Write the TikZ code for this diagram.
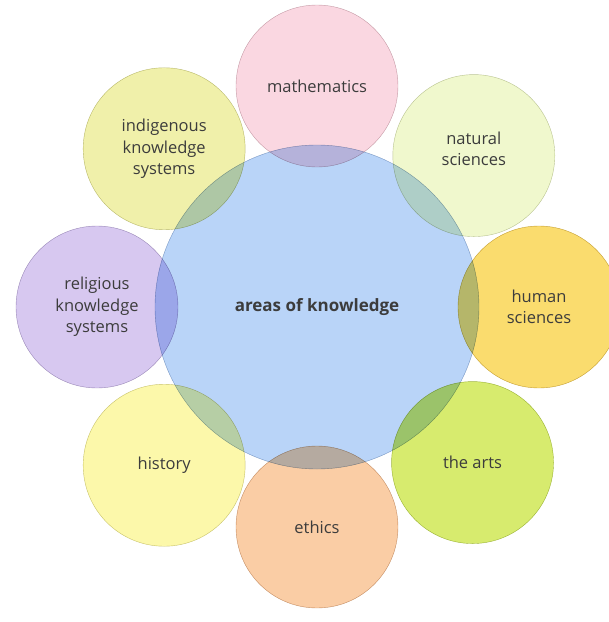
\documentclass[tikz,border=0pt]{standalone}
\usepackage{fontspec}
\setmainfont{Open Sans}
\usetikzlibrary{positioning}

\definecolor{aokblue}{RGB}{185,212,248}
\definecolor{mathpink}{RGB}{250,215,225}
\definecolor{natgreen}{RGB}{240,248,205}
\definecolor{humgold}{RGB}{250,220,110}
\definecolor{artlime}{RGB}{215,235,110}
\definecolor{ethpeach}{RGB}{250,205,165}
\definecolor{histyellow}{RGB}{252,248,170}
\definecolor{rellilac}{RGB}{215,200,240}
\definecolor{indolive}{RGB}{240,240,170}
\definecolor{txtgray}{RGB}{60,60,60}

\begin{document}
\begin{tikzpicture}[x=1pt,y=1pt,
  aok/.style={circle,minimum size=324pt,inner sep=0pt,line width=0.4pt,
    fill=#1,draw=#1!80!black,blend mode=multiply},
  aoksmall/.style={circle,minimum size=162pt,inner sep=0pt,line width=0.4pt,
    fill=#1,draw=#1!80!black,blend mode=multiply},
  label/.style={text=txtgray,align=center,font=\fontsize{16.5}{21.5}\selectfont}]
\useasboundingbox (-317,307) rectangle (292,-315);

\node[aoksmall=mathpink] (math) at (90:221){};
\node[aoksmall=natgreen] (natsci) at (44:218){};
\node[aoksmall=humgold] (humsci) at (0:222){};
\node[aoksmall=artlime] (arts) at (-45:220){};
\node[aoksmall=ethpeach] (ethics) at (-90:220){};
\node[aoksmall=histyellow] (history) at (-134:220){};
\node[aoksmall=rellilac] (religious) at (180:220){};
\node[aoksmall=indolive] (indig) at (134:220){};
\node[aok=aokblue] (centre) at (0,0){};

\node[label] (mathtxt) at (math){mathematics};
\node[label] (nattxt) at ([yshift=7]natsci){natural\\sciences};
\node[label] (humtxt) at (humsci){human\\sciences};
\node[label] (arttxt) at (arts){the arts};
\node[label] (ethtxt) at (ethics){ethics};
\node[label] (histtxt) at (history){history};
\node[label] (reltxt) at (religious){religious\\knowledge\\systems};
\node[label] (indtxt) at (indig){indigenous\\knowledge\\systems};
\node[label,font=\fontsize{17}{21.5}\selectfont\bfseries] (aoktxt) at (centre){areas of knowledge};

\end{tikzpicture}
\end{document}
